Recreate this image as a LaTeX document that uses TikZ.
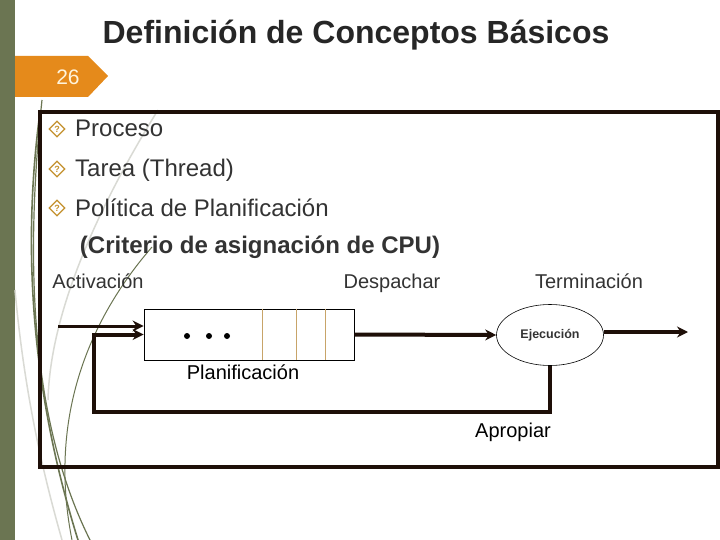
\documentclass[tikz,border=0pt]{standalone}
\usepackage{fontspec}
\setmainfont{Liberation Sans}
\usetikzlibrary{arrows.meta,shapes.geometric,positioning}
\definecolor{barGreen}{HTML}{6B7552}
\definecolor{grassGray}{HTML}{D9DAD4}
\definecolor{tabOrange}{HTML}{E58A1B}
\definecolor{tabText}{HTML}{FFF4DC}
\definecolor{boxDark}{HTML}{1E0F08}
\definecolor{bulletGold}{HTML}{C4912E}
\definecolor{divTan}{HTML}{C8A469}
\definecolor{txtTitle}{HTML}{262626}
\definecolor{txtGray}{HTML}{333333}

\begin{document}
\begin{tikzpicture}[x=1pt,y=-1pt,
  bullet/.style={diamond,draw=bulletGold,line width=1.1pt,minimum size=16pt,inner sep=0pt,
    text=bulletGold,font=\bfseries\fontsize{9}{9}\selectfont},
  item/.style={anchor=base west,inner sep=0pt,text=txtGray,font=\fontsize{24}{28}\selectfont},
  lbl/.style={anchor=base,text=txtGray,font=\fontsize{20}{24}\selectfont},
  flow/.style={boxDark,line width=4pt},
  tip/.style={-{Stealth[length=11pt,width=11pt]}}]
\def\cGrass{barGreen}
\def\cLine{boxDark}
\useasboundingbox (0,0) rectangle (720,540);
\fill[white] (0,0) rectangle (720,540);
% side bar and grass
\fill[barGreen] (0,0) rectangle (15,540);
\draw[grassGray, line width=1.5pt] (158,110) .. controls (90,220) and (50,320) .. (48,400);
\draw[grassGray, line width=1.5pt] (15,290) .. controls (25,400) and (45,480) .. (62,540);
\draw[\cGrass, line width=1.2pt] (42,100) .. controls (25,260) and (30,420) .. (90,540);
\draw[\cGrass, line width=1.6pt] (40,112) .. controls (15,300) and (50,450) .. (78,540);
\draw[\cGrass, line width=1pt] (152,247) .. controls (80,330) and (50,430) .. (72,540);
% title and page tab
\node[anchor=base, text=txtTitle, font=\bfseries\fontsize{32}{37}\selectfont] (titulo) at (356,44) {Definición de Conceptos Básicos};
\fill[tabOrange] (15,56) -- (88,56) -- (108,76) -- (88,97) -- (15,97) -- cycle;
\node[text=tabText, font=\fontsize{21}{24}\selectfont] (pag) at (68,77) {26};
% frame
\draw[\cLine, line width=3.5pt] (40,112) rectangle (718,467);
% bullets
\node[bullet] (b1) at (57,129) {?};
\node[item] (proceso) at (75,137) {Proceso};
\node[bullet] (b2) at (57,169) {?};
\node[item] (tarea) at (75,177) {Tarea (Thread)};
\node[bullet] (b3) at (57,208) {?};
\node[item] (politica) at (75,216) {Política de Planificación};
\node[anchor=base, text=txtGray, font=\bfseries\fontsize{24}{28}\selectfont] (criterio) at (260,253) {(Criterio de asignación de CPU)};
% labels
\node[lbl] (lblAct) at (98,288) {Activación};
\node[lbl] (lblDesp) at (392,288) {Despachar};
\node[lbl] (lblTerm) at (589,288) {Terminación};
% queue and cpu
\node[draw, line width=0.8pt, minimum width=210pt, minimum height=51pt, inner sep=0pt] (q) at (249,334.5) {};
\foreach \xd in {119,153,182}
  \draw[divTan, line width=0.8pt] (q.north west) ++(\xd,0) -- ++(0,51);
\foreach \xd in {187,209,227}
  \fill (\xd,336) circle[radius=3];
\node[lbl, text=black] (lblPlan) at (243,379) {Planificación};
\node[ellipse, draw, line width=0.6pt, minimum width=107pt, minimum height=61pt, inner sep=0pt,
  text=txtGray, font=\bfseries\fontsize{12.5}{15}\selectfont] (ejec) at (550,335) {Ejecución};
\node[lbl, text=black] (lblApr) at (513,437) {Apropiar};
% flows
\coordinate (act) at (58,326);
\coordinate (lp) at (94,412);
\coordinate (fin) at (688,332);
\draw[\cLine, line width=3pt, tip] (act) -- (act -| q.west);
\draw[flow, tip] (q.east) -- (ejec.west);
\draw[flow, tip] (ejec.east |- fin) -- (fin);
\draw[flow, tip, line join=miter] (ejec.south) |- (lp) |- (q.west);
\end{tikzpicture}
\end{document}
